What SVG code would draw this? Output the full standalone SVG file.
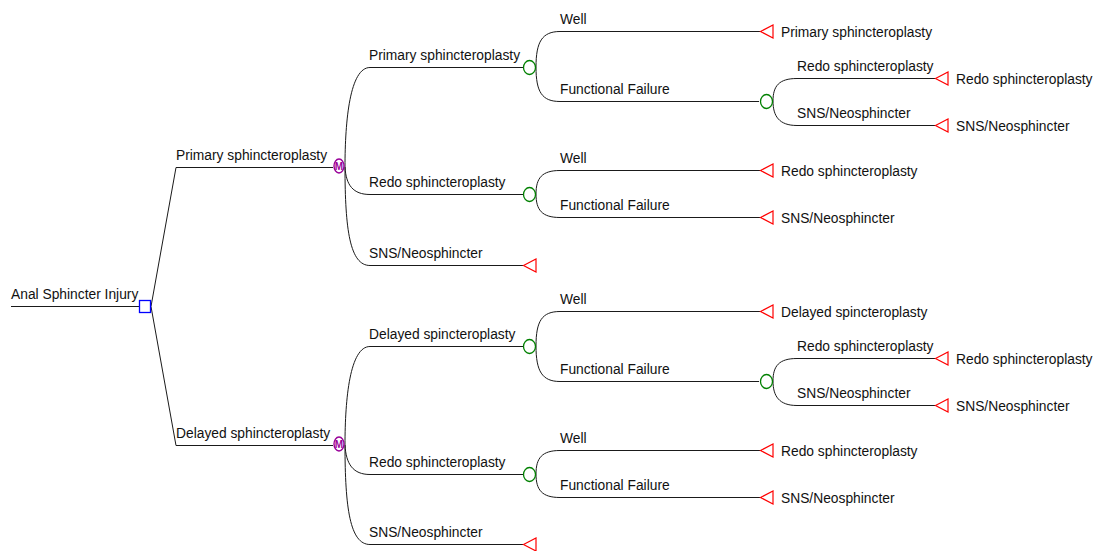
<svg xmlns="http://www.w3.org/2000/svg" width="1095" height="551" viewBox="0 0 1095 551">
<style>
.ln{fill:none;stroke:#1a1a1a;stroke-width:1}
.t{font-family:"Liberation Sans",Arial,sans-serif;font-size:13.8px;fill:#111}
.dec{fill:#fff;stroke:#0000ff;stroke-width:1.3}
.ch{fill:#fff;stroke:#008000;stroke-width:1.3}
.mk{fill:#fff;stroke:#990099;stroke-width:1.4}
.mt{font-family:"Liberation Sans",Arial,sans-serif;font-size:10px;fill:#990099;font-weight:bold}
.tm{fill:#fff;stroke:#ff0000;stroke-width:1.2}
</style>
<rect width="1095" height="551" fill="#fff"/>
<g id="connectors">
<!-- root -->
<path class="ln" d="M11,306.5H139"/>
<path class="ln" d="M151,306.5L176,167.5H333"/>
<path class="ln" d="M151,306.5L176,445.5H333"/>
<!-- top markov fork -->
<path class="ln" d="M345,167 C345,120 350,67.5 370,67.5 H523"/>
<path class="ln" d="M345,167 C346,185 353,194.5 370,194.5 H523"/>
<path class="ln" d="M345,167 C345,230 350,265.5 370,265.5 H523"/>
<!-- chance top 1 -->
<path class="ln" d="M536,67 C536,42 542,31.5 560,31.5 H760"/>
<path class="ln" d="M536,67 C536,92 542,101.5 560,101.5 H759"/>
<path class="ln" d="M773,101 C773,86 779,78.5 797,78.5 H935"/>
<path class="ln" d="M773,101 C773,116 779,125.5 797,125.5 H935"/>
<!-- chance top 2 -->
<path class="ln" d="M536,194 C536,178 542,170.5 560,170.5 H760"/>
<path class="ln" d="M536,194 C536,210 542,217.5 560,217.5 H760"/>
<!-- bottom markov fork -->
<path class="ln" d="M345,445 C345,398 350,346.5 370,346.5 H523"/>
<path class="ln" d="M345,445 C346,464 353,474.5 370,474.5 H523"/>
<path class="ln" d="M345,445 C345,508 350,544.5 370,544.5 H523"/>
<!-- chance bottom 1 -->
<path class="ln" d="M536,346 C536,321 542,311.5 560,311.5 H760"/>
<path class="ln" d="M536,346 C536,371 542,381.5 560,381.5 H759"/>
<path class="ln" d="M773,381 C773,366 779,358.5 797,358.5 H935"/>
<path class="ln" d="M773,381 C773,396 779,405.5 797,405.5 H935"/>
<!-- chance bottom 2 -->
<path class="ln" d="M536,474 C536,458 542,450.5 560,450.5 H760"/>
<path class="ln" d="M536,474 C536,490 542,497.5 560,497.5 H760"/>
</g>
<g id="root">
<text class="t" x="11" y="299">Anal Sphincter Injury</text>
<rect class="dec" x="139.5" y="300.5" width="11" height="12"/>
</g>
<g id="markov-primary">
<text class="t" x="176" y="160">Primary sphincteroplasty</text>
<ellipse class="mk" cx="339" cy="166" rx="5" ry="7"/>
<text class="mt" x="339" y="169.5" text-anchor="middle">M</text>
</g>
<g id="markov-delayed">
<text class="t" x="176" y="438">Delayed sphincteroplasty</text>
<ellipse class="mk" cx="339" cy="444" rx="5" ry="7"/>
<text class="mt" x="339" y="447.5" text-anchor="middle">M</text>
</g>
<!-- top subtree -->
<g id="chance-p1">
<text class="t" x="369" y="60">Primary sphincteroplasty</text>
<ellipse class="ch" cx="529.5" cy="67.5" rx="6" ry="7"/>
</g>
<g id="term-p1-well">
<text class="t" x="560" y="24">Well</text>
<polygon class="tm" points="760.5,31.5 773,25 773,38"/>
<text class="t" x="781" y="36.5">Primary sphincteroplasty</text>
</g>
<g id="chance-p1-ff">
<text class="t" x="560" y="94">Functional Failure</text>
<ellipse class="ch" cx="766.5" cy="101.5" rx="6" ry="7"/>
</g>
<g id="term-p1-ff-redo">
<text class="t" x="797" y="71">Redo sphincteroplasty</text>
<polygon class="tm" points="935.5,78.5 948,72 948,85"/>
<text class="t" x="956" y="83.5">Redo sphincteroplasty</text>
</g>
<g id="term-p1-ff-sns">
<text class="t" x="797" y="118">SNS/Neosphincter</text>
<polygon class="tm" points="935.5,125.5 948,119 948,132"/>
<text class="t" x="956" y="130.5">SNS/Neosphincter</text>
</g>
<g id="chance-p2">
<text class="t" x="369" y="187">Redo sphincteroplasty</text>
<ellipse class="ch" cx="529.5" cy="194.5" rx="6" ry="7"/>
</g>
<g id="term-p2-well">
<text class="t" x="560" y="163">Well</text>
<polygon class="tm" points="760.5,170.5 773,164 773,177"/>
<text class="t" x="781" y="175.5">Redo sphincteroplasty</text>
</g>
<g id="term-p2-ff">
<text class="t" x="560" y="210">Functional Failure</text>
<polygon class="tm" points="760.5,217.5 773,211 773,224"/>
<text class="t" x="781" y="222.5">SNS/Neosphincter</text>
</g>
<g id="term-p3">
<text class="t" x="369" y="258">SNS/Neosphincter</text>
<polygon class="tm" points="523.5,265.5 536,259 536,272"/>
</g>
<!-- bottom subtree -->
<g id="chance-d1">
<text class="t" x="369" y="339">Delayed spincteroplasty</text>
<ellipse class="ch" cx="529.5" cy="346.5" rx="6" ry="7"/>
</g>
<g id="term-d1-well">
<text class="t" x="560" y="304">Well</text>
<polygon class="tm" points="760.5,311.5 773,305 773,318"/>
<text class="t" x="781" y="316.5">Delayed spincteroplasty</text>
</g>
<g id="chance-d1-ff">
<text class="t" x="560" y="374">Functional Failure</text>
<ellipse class="ch" cx="766.5" cy="381.5" rx="6" ry="7"/>
</g>
<g id="term-d1-ff-redo">
<text class="t" x="797" y="351">Redo sphincteroplasty</text>
<polygon class="tm" points="935.5,358.5 948,352 948,365"/>
<text class="t" x="956" y="363.5">Redo sphincteroplasty</text>
</g>
<g id="term-d1-ff-sns">
<text class="t" x="797" y="398">SNS/Neosphincter</text>
<polygon class="tm" points="935.5,405.5 948,399 948,412"/>
<text class="t" x="956" y="410.5">SNS/Neosphincter</text>
</g>
<g id="chance-d2">
<text class="t" x="369" y="467">Redo sphincteroplasty</text>
<ellipse class="ch" cx="529.5" cy="474.5" rx="6" ry="7"/>
</g>
<g id="term-d2-well">
<text class="t" x="560" y="443">Well</text>
<polygon class="tm" points="760.5,450.5 773,444 773,457"/>
<text class="t" x="781" y="455.5">Redo sphincteroplasty</text>
</g>
<g id="term-d2-ff">
<text class="t" x="560" y="490">Functional Failure</text>
<polygon class="tm" points="760.5,497.5 773,491 773,504"/>
<text class="t" x="781" y="502.5">SNS/Neosphincter</text>
</g>
<g id="term-d3">
<text class="t" x="369" y="537">SNS/Neosphincter</text>
<polygon class="tm" points="523.5,544.5 536,538 536,551"/>
</g>
</svg>
